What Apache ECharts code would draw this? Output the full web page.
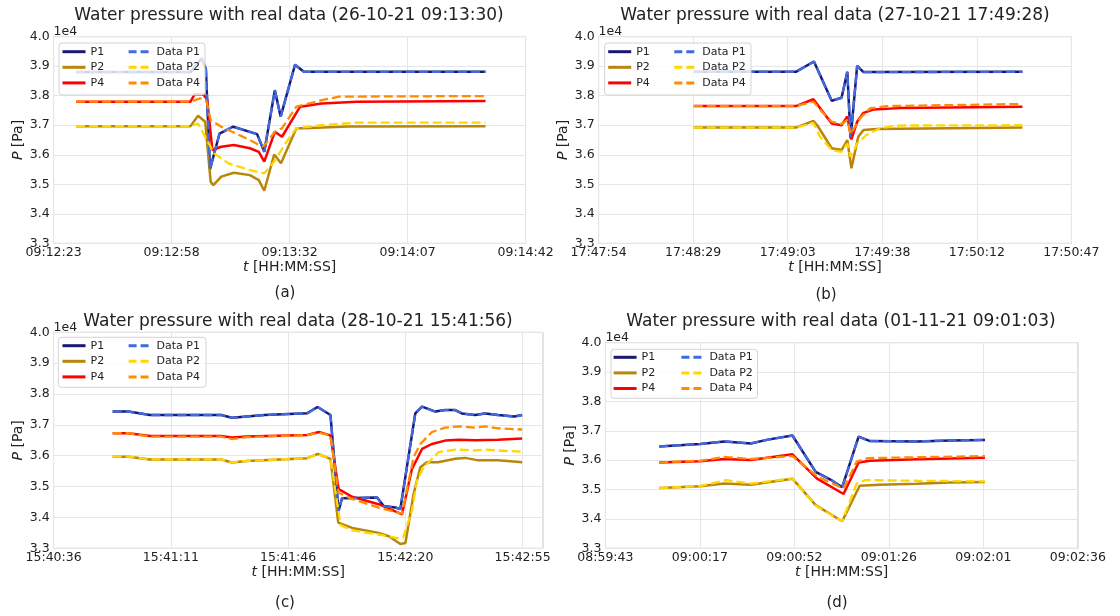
<!DOCTYPE html>
<html>
<head>
<meta charset="utf-8">
<script src="https://cdn.jsdelivr.net/npm/echarts@6/dist/echarts.min.js"></script>
<style>
    html, body { margin: 0; padding: 0; background: #fff; }
    #chart { width: 1120px; height: 616px; }
</style>
</head>
<body>
<div id="chart"></div>
<script>
// x values are seconds after the first tick of each panel, y values in Pa
// matplotlib put its date ticks every 0.0004 day = 34.56 s
const STEP = 34.56;

// (a) 26-10-21 09:13:30
const aTicks = ['09:12:23', '09:12:58', '09:13:32', '09:14:07', '09:14:42'];
const aP1 = [[6.6,38800],[40.1,38800],[43.4,39270],[44.6,38900],[45.8,35500],[48.6,36720],[52.6,36950],[59.6,36700],[61.7,36100],[64.8,38190],[66.5,37290],[70.7,39050],[73.3,38810],[126.5,38810]];
const aP2 = [[6.6,36970],[40.1,36970],[42.3,37320],[44.4,37120],[46.0,35090],[46.8,34970],[49.1,35260],[52.8,35390],[57.5,35310],[60.1,35140],[61.7,34780],[64.6,36010],[66.6,35710],[71.1,36900],[73.2,36900],[86.4,36960],[126.5,36970]];
const aP4 = [[6.6,37800],[40.1,37800],[41.3,38050],[43.9,38030],[45.0,37860],[46.5,36160],[49.1,36270],[52.8,36330],[57.5,36220],[60.1,36100],[61.7,35770],[64.8,36780],[66.9,36610],[72.2,37630],[78.5,37740],[88.8,37800],[126.5,37820]];
const aDataP1 = aP1; // measured P1 lies right on top of the model line
const aDataP2 = [[6.6,36970],[40.1,36970],[42.3,37060],[44.9,36500],[47.0,36050],[51.2,35710],[57.5,35480],[61.7,35370],[64.8,35800],[68.0,36400],[71.1,36900],[78.5,37000],[88.8,37090],[126.5,37090]];
const aDataP4 = [[6.6,37800],[40.1,37800],[42.9,37910],[44.8,37800],[46.0,37180],[49.1,36950],[57.5,36500],[61.2,36270],[62.2,36380],[64.8,36780],[66.9,36900],[71.1,37630],[78.5,37850],[83.6,37970],[126.5,37990]];

// (b) 27-10-21 17:49:28
const bTicks = ['17:47:54', '17:48:29', '17:49:03', '17:49:38', '17:50:12', '17:50:47'];
const bP1 = [[34.8,38810],[72.1,38810],[78.7,39160],[85.2,37830],[88.8,37930],[90.9,38810],[92.1,36550],[94.5,39010],[96.8,38800],[154.9,38810]];
const bP2 = [[34.8,36920],[72.1,36920],[78.5,37150],[79.9,37000],[85.2,36220],[88.8,36160],[90.9,36500],[92.4,35540],[94.9,36610],[96.8,36840],[101.6,36870],[154.9,36920]];
const bP4 = [[34.8,37650],[72.1,37650],[78.5,37880],[85.2,37060],[88.8,37000],[90.9,37300],[92.4,36520],[94.5,37120],[96.8,37420],[100.4,37530],[110,37580],[154.9,37630]];
const bDataP1 = bP1;
const bDataP2 = [[34.8,36920],[72.1,36920],[78.5,37080],[80.9,36610],[85.2,36160],[88.8,36100],[90.9,36380],[92.1,35930],[94.5,36380],[97.9,36670],[102.8,36900],[110,36990],[154.9,37000]];
const bDataP4 = [[34.8,37650],[72.1,37650],[78.5,37800],[81.6,37460],[85.2,37120],[88.8,37040],[90.9,37180],[92.1,36700],[95.7,37250],[99.2,37570],[105.3,37650],[154.9,37720]];

// (c) 28-10-21 15:41:56
const cTicks = ['15:40:36', '15:41:11', '15:41:46', '15:42:20', '15:42:55'];
const cP1 = [[17.4,37430],[22.1,37430],[28.4,37320],[49.4,37320],[52.6,37230],[56.9,37270],[62.1,37320],[74.8,37380],[77.8,37580],[81.6,37320],[84.0,34210],[85.0,34620],[95.3,34650],[97.3,34370],[100.7,34320],[102.2,34270],[106.6,37370],[108.6,37590],[112.5,37430],[115.4,37480],[118.4,37480],[120.3,37370],[124.2,37320],[127.2,37370],[131.0,37320],[135.8,37270],[138.1,37320]];
const cP2 = [[17.4,35970],[22.1,35970],[28.4,35880],[49.4,35880],[52.6,35780],[56.9,35830],[74.8,35920],[77.9,36060],[81.6,35900],[83.9,33830],[88.0,33660],[95.8,33500],[98.8,33390],[102.2,33140],[103.7,33170],[106.1,34760],[108.1,35630],[110.0,35790],[113.3,35790],[118.4,35900],[121.3,35930],[125.2,35850],[131.0,35850],[138.1,35790]];
const cP4 = [[17.4,36730],[22.1,36730],[28.4,36640],[49.4,36640],[52.6,36590],[56.9,36620],[74.8,36670],[78.2,36770],[81.6,36660],[84.0,34920],[88.0,34670],[95.8,34430],[101.7,34150],[102.7,34100],[105.6,35560],[108.6,36220],[111.5,36380],[115.4,36490],[119.4,36520],[124.2,36500],[131.0,36520],[138.1,36560]];
const cDataP1 = cP1;
const cDataP2 = [[17.4,35970],[22.1,35970],[28.4,35880],[49.4,35880],[52.6,35780],[56.9,35830],[74.8,35920],[77.9,36050],[81.6,35900],[84.6,33750],[88.0,33580],[96.8,33430],[101.7,33320],[103.0,33350],[105.6,34210],[107.1,35190],[109.1,35630],[113.5,36120],[118.4,36200],[124.2,36170],[127.2,36200],[131.0,36170],[138.1,36130]];
const cDataP4 = [[17.4,36730],[22.1,36730],[28.4,36620],[49.4,36620],[52.6,36540],[56.9,36600],[74.8,36670],[78.2,36750],[81.6,36660],[84.0,34800],[88.0,34600],[95.8,34320],[101.7,34150],[102.7,34120],[106.1,35950],[108.1,36380],[111.5,36770],[115.4,36910],[119.4,36950],[124.2,36910],[127.2,36950],[131.0,36890],[138.1,36850]];

// (d) 01-11-21 09:01:03
const dTicks = ['08:59:43', '09:00:17', '09:00:52', '09:01:26', '09:02:01', '09:02:36'];
const dP1 = [[19.7,36470],[34.6,36550],[43.5,36640],[53.2,36570],[59.4,36700],[68.4,36840],[76.9,35600],[82.3,35340],[86.6,35080],[92.6,36800],[96.8,36650],[114.0,36640],[126.1,36670],[138.8,36690]];
const dP2 = [[19.7,35050],[34.6,35110],[43.5,35210],[53.2,35160],[68.4,35370],[76.9,34470],[86.6,33920],[93.0,35130],[100.2,35160],[114.0,35200],[126.1,35240],[138.8,35260]];
const dP4 = [[19.7,35920],[34.6,35960],[43.5,36040],[53.2,36010],[68.4,36200],[77.4,35370],[87.1,34850],[92.6,35920],[96.8,35980],[114.0,36030],[138.8,36080]];
const dDataP1 = dP1;
const dDataP2 = [[19.7,35050],[34.6,35120],[44.2,35320],[53.2,35200],[68.4,35380],[76.9,34450],[86.6,33920],[91.9,35200],[95.0,35320],[114.0,35300],[138.8,35280]];
const dDataP4 = [[19.7,35920],[34.6,35980],[43.5,36110],[53.2,36040],[68.4,36140],[77.4,35450],[87.1,35030],[91.9,35950],[96.1,36070],[114.0,36100],[138.8,36140]];

const seriesNames = ['P1', 'P2', 'P4', 'Data P1', 'Data P2', 'Data P4'];
const seriesColors = ['#191970', '#b8860b', '#ff0000', '#4169e1', '#ffd700', '#ff8c00'];

const FONT = 'DejaVu Sans';
const TXT = '#222';

// legend samples: a plain bar and a dashed one
const ICON_SOLID = 'path://M0,0h23v3h-23z';
const ICON_DASH = 'path://M0,0h8v3h-8zM12,0h8v3h-8zM23,0h0.01v3h-0.01z';

// one entry per subplot: layout in px
const panels = [
    {
        title: 'Water pressure with real data (26-10-21 09:13:30)', caption: '(a)',
        ticks: aTicks, xMax: 4 * STEP, lines: [aP1, aP2, aP4, aDataP1, aDataP2, aDataP4],
        grid: { left: 53.6, top: 36.7, width: 472, height: 206.6 },
        titlePos: [289, 15.7], capPos: [285, 293],
        leg: { c1: 62.5, c2: 128.6, row: 51.7 }, box: [59, 43, 146, 52]
    },
    {
        title: 'Water pressure with real data (27-10-21 17:49:28)', caption: '(b)',
        ticks: bTicks, xMax: 5 * STEP, lines: [bP1, bP2, bP4, bDataP1, bDataP2, bDataP4],
        grid: { left: 598.6, top: 36.7, width: 472.8, height: 206.6 },
        titlePos: [835, 15.7], capPos: [826, 295],
        leg: { c1: 608.2, c2: 674.3, row: 51.7 }, box: [604.6, 43, 146.4, 52]
    },
    {
        title: 'Water pressure with real data (28-10-21 15:41:56)', caption: '(c)',
        ticks: cTicks, xMax: 4.173 * STEP, lines: [cP1, cP2, cP4, cDataP1, cDataP2, cDataP4],
        grid: { left: 53.6, top: 332.3, width: 489.3, height: 216 },
        titlePos: [298, 321.7], capPos: [285, 603],
        leg: { c1: 62.5, c2: 128.6, row: 345.7 }, box: [58.3, 337.3, 147.7, 50]
    },
    {
        title: 'Water pressure with real data (01-11-21 09:01:03)', caption: '(d)',
        ticks: dTicks, xMax: 5 * STEP, lines: [dP1, dP2, dP4, dDataP1, dDataP2, dDataP4],
        grid: { left: 605.4, top: 342.7, width: 472.5, height: 205.6 },
        titlePos: [841, 321.7], capPos: [837, 603],
        leg: { c1: 613.6, c2: 681.4, row: 357.3 }, box: [611, 349.3, 146.5, 49]
    }
];

function drawChart() {
    var dom = document.getElementById('chart');
    var myChart = echarts.init(dom, null, { renderer: 'canvas' });

    var grids = [], xAxes = [], yAxes = [], series = [], legends = [], graphics = [];

    panels.forEach(function (p, i) {
        grids.push(Object.assign({ show: true, borderColor: '#cccccc', borderWidth: 1, containLabel: false }, p.grid));

        xAxes.push({
            type: 'value', gridIndex: i, min: 0, max: p.xMax, interval: STEP,
            name: '{i|t} [HH:MM:SS]', nameLocation: 'middle', nameGap: 17,
            nameTextStyle: {
                fontFamily: FONT, fontSize: 14, color: TXT,
                rich: { i: { fontStyle: 'italic', fontFamily: FONT, fontSize: 14, color: TXT } }
            },
            axisLine: { show: false }, axisTick: { show: false },
            splitLine: { show: true, lineStyle: { color: '#e6e6e6', width: 1 } },
            axisLabel: {
                fontFamily: FONT, fontSize: 12.5, color: TXT, margin: 3,
                formatter: function (v) {
                    var k = Math.round(v / STEP);
                    if (Math.abs(v - k * STEP) > 0.01) return '';
                    return p.ticks[k] || '';
                }
            }
        });

        yAxes.push({
            type: 'value', gridIndex: i, min: 33000, max: 40000, interval: 1000,
            name: '{i|P} [Pa]', nameLocation: 'middle', nameGap: 27, nameRotate: 90,
            nameTextStyle: {
                fontFamily: FONT, fontSize: 14, color: TXT,
                rich: { i: { fontStyle: 'italic', fontFamily: FONT, fontSize: 14, color: TXT } }
            },
            axisLine: { show: false }, axisTick: { show: false },
            splitLine: { show: true, lineStyle: { color: '#e6e6e6', width: 1 } },
            axisLabel: {
                fontFamily: FONT, fontSize: 12.5, color: TXT, margin: 4,
                formatter: function (v) { return (v / 1e4).toFixed(1); }
            }
        });

        p.lines.forEach(function (d, k) {
            var dashed = k >= 3;
            series.push({
                name: seriesNames[k], type: 'line', xAxisIndex: i, yAxisIndex: i,
                data: d, symbol: 'none', showSymbol: false, smooth: false,
                color: seriesColors[k],
                lineStyle: { color: seriesColors[k], width: dashed ? 2.3 : 2.5, type: dashed ? [9, 4] : 'solid' },
                z: dashed ? 3 : 2
            });
        });

        var legBase = {
            orient: 'vertical', itemWidth: 23, itemHeight: 3, itemGap: 2.6, padding: 0,
            selectedMode: false, z: 8,
            textStyle: { fontFamily: FONT, fontSize: 11, color: TXT, lineHeight: 13 }
        };
        legends.push(Object.assign({}, legBase, {
            data: seriesNames.slice(0, 3).map(function (n) { return { name: n, icon: ICON_SOLID }; }),
            left: p.leg.c1, top: p.leg.row - 6.5
        }));
        legends.push(Object.assign({}, legBase, {
            data: seriesNames.slice(3).map(function (n) { return { name: n, icon: ICON_DASH }; }),
            left: p.leg.c2, top: p.leg.row - 6.5
        }));

        // legend frame
        graphics.push({
            type: 'rect', z: 6,
            shape: { x: p.box[0], y: p.box[1], width: p.box[2], height: p.box[3], r: 3 },
            style: { fill: 'rgba(255,255,255,0.8)', stroke: '#d4d4d4', lineWidth: 1 }
        });
        // title, scale factor and caption
        graphics.push({
            type: 'text', x: p.titlePos[0], y: p.titlePos[1], z: 10,
            style: { text: p.title, fontFamily: FONT, fontSize: 17, fill: TXT, align: 'center', verticalAlign: 'middle' }
        });
        graphics.push({
            type: 'text', x: p.grid.left, y: p.grid.top - 5, z: 10,
            style: { text: '1e4', fontFamily: FONT, fontSize: 12.5, fill: TXT, align: 'left', verticalAlign: 'middle' }
        });
        graphics.push({
            type: 'text', x: p.capPos[0], y: p.capPos[1], z: 10,
            style: { text: p.caption, fontFamily: FONT, fontSize: 15, fill: TXT, align: 'center', verticalAlign: 'middle' }
        });
    });

    var option = {
        animation: false,
        backgroundColor: '#ffffff',
        grid: grids,
        xAxis: xAxes,
        yAxis: yAxes,
        legend: legends,
        series: series,
        graphic: { elements: graphics }
    };

    myChart.setOption(option);
    window.addEventListener('resize', myChart.resize);
}

drawChart();
</script>
</body>
</html>
